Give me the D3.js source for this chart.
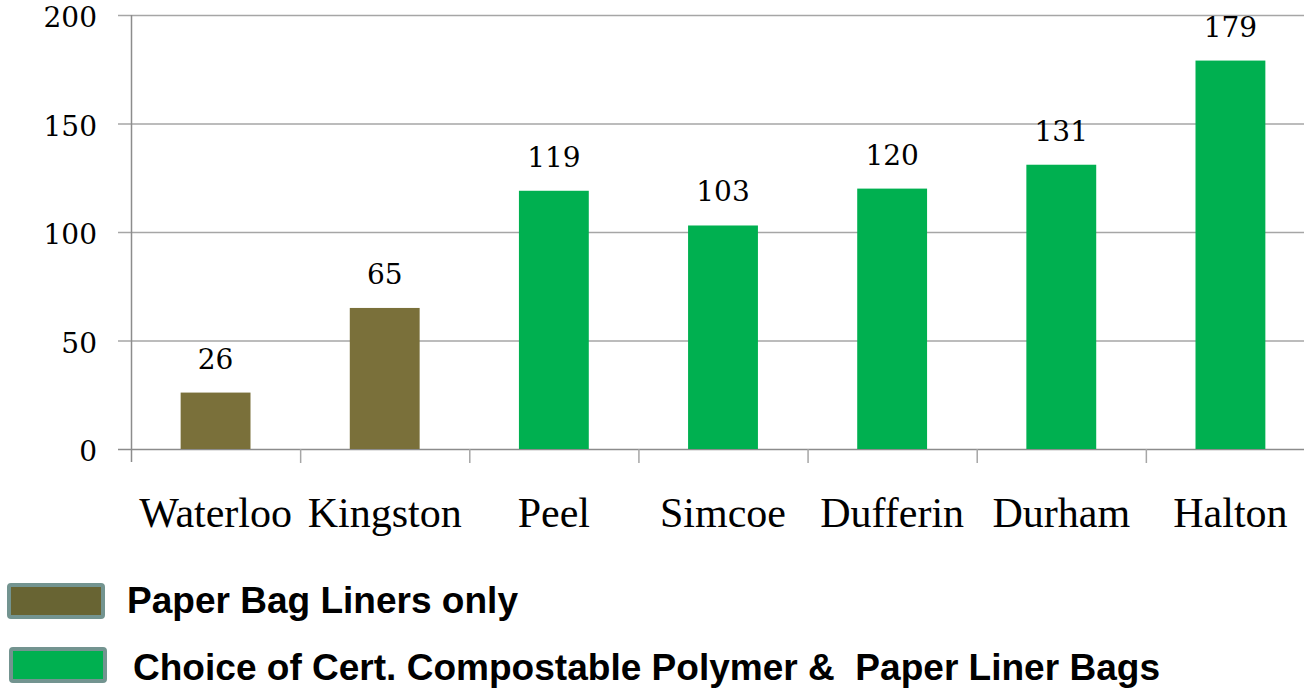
<!DOCTYPE html>
<html>
<head>
<meta charset="utf-8">
<script src="https://cdn.jsdelivr.net/npm/d3@7"></script>
<style>
  body { margin: 0; background: #fff; }
  svg { display: block; }
</style>
</head>
<body>
<svg id="chart" width="1304" height="688"></svg>
<script>
// data
const regions = ["Waterloo", "Kingston", "Peel", "Simcoe", "Dufferin", "Durham", "Halton"];
const values = [26, 65, 119, 103, 120, 131, 179];
const bagType = ["paper", "paper", "choice", "choice", "choice", "choice", "choice"];
const yTicks = [0, 50, 100, 150, 200];
const legendKeys = ["paper", "choice"];
const legendLabels = ["Paper Bag Liners only", "Choice of Cert. Compostable Polymer &  Paper Liner Bags"];

const colors = { paper: "#7a703a", choice: "#00b050" };
const legendColors = { paper: "#686433", choice: "#00b050" };
const legendWidths = [391, 1027];

const svg = d3.select("#chart");

const x = d3.scaleBand()
    .domain(regions)
    .range([131, 1315])
    .padding(0);

const y = d3.scaleLinear()
    .domain([0, 200])
    .range([449, 15]);

// gridlines
svg.append("g")
    .selectAll("line")
    .data(yTicks)
    .join("line")
    .attr("x1", 118)
    .attr("x2", 1304)
    .attr("y1", d => y(d) + 0.5)
    .attr("y2", d => y(d) + 0.5)
    .attr("stroke", d => d === 0 ? "#8c8c8c" : "#a6a6a6")
    .attr("stroke-width", 1.5);

// y axis line
svg.append("line")
    .attr("x1", 131.5).attr("x2", 131.5)
    .attr("y1", 15).attr("y2", 462)
    .attr("stroke", "#8c8c8c")
    .attr("stroke-width", 1.5);

// y labels
svg.append("g")
    .selectAll("text")
    .data(yTicks)
    .join("text")
    .attr("x", 97)
    .attr("y", d => y(d) + 12)
    .attr("text-anchor", "end")
    .style("font-family", "'DejaVu Serif', serif")
    .style("font-size", "28px")
    .text(d => d);

// category tick marks
svg.append("g")
    .selectAll("line")
    .data(regions.slice(1))
    .join("line")
    .attr("x1", d => x(d) + 0.5)
    .attr("x2", d => x(d) + 0.5)
    .attr("y1", 449)
    .attr("y2", 463)
    .attr("stroke", "#a6a6a6")
    .attr("stroke-width", 1.5);

// bars
const barW = x.bandwidth() * 0.413;
svg.append("g")
    .selectAll("rect")
    .data(regions)
    .join("rect")
    .attr("x", d => x(d) + x.bandwidth() / 2 - barW / 2)
    .attr("y", (d, i) => y(values[i]))
    .attr("width", barW)
    .attr("height", (d, i) => y(0) - y(values[i]))
    .attr("fill", (d, i) => colors[bagType[i]]);

// value labels
svg.append("g")
    .selectAll("text")
    .data(regions)
    .join("text")
    .attr("x", d => x(d) + x.bandwidth() / 2)
    .attr("y", (d, i) => y(values[i]) - 24)
    .attr("text-anchor", "middle")
    .style("font-family", "'DejaVu Serif', serif")
    .style("font-size", "28px")
    .text((d, i) => values[i]);

// category labels
svg.append("g")
    .selectAll("text")
    .data(regions)
    .join("text")
    .attr("x", d => x(d) + x.bandwidth() / 2)
    .attr("y", 527)
    .attr("text-anchor", "middle")
    .style("font-family", "'Liberation Serif', serif")
    .style("font-size", "42px")
    .text(d => d);

// legend
const legend = svg.append("g")
    .selectAll("g")
    .data(legendKeys)
    .join("g")
    .attr("transform", (d, i) => `translate(${9 + i * 2},${585 + i * 64})`);

legend.append("rect")
    .attr("width", 94)
    .attr("height", 32)
    .attr("rx", 2)
    .attr("fill", d => legendColors[d])
    .attr("stroke", "#739490")
    .attr("stroke-width", 4);

legend.append("text")
    .attr("x", (d, i) => 118 + i * 4)
    .attr("y", (d, i) => 28 + i * 3)
    .attr("textLength", (d, i) => legendWidths[i])
    .attr("lengthAdjust", "spacingAndGlyphs")
    .style("white-space", "pre")
    .style("font-family", "'Liberation Sans', Arial, sans-serif")
    .style("font-weight", "bold")
    .style("font-size", "37px")
    .text((d, i) => legendLabels[i]);
</script>
</body>
</html>
